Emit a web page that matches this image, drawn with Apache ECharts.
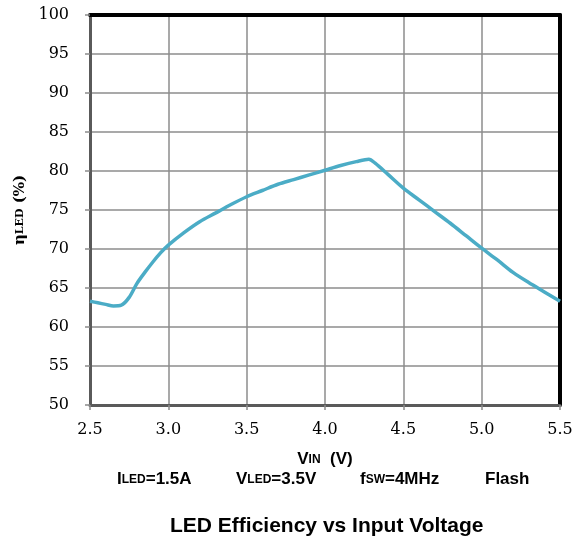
<!DOCTYPE html>
<html>
<head>
<meta charset="utf-8">
<script src="https://cdn.jsdelivr.net/npm/echarts@6/dist/echarts.min.js"></script>
<style>
  html, body { margin: 0; padding: 0; background: #fff; }
  #chart { width: 579px; height: 539px; }
</style>
</head>
<body>
<div id="chart"></div>
<script>
// input voltage (V) and LED efficiency (%)
var vin = [2.5, 2.55, 2.6, 2.65, 2.7, 2.75, 2.8, 2.85, 2.9, 2.95, 3.0, 3.1, 3.2, 3.3, 3.4, 3.5, 3.6, 3.7, 3.8, 3.9, 4.0, 4.1, 4.2, 4.28, 4.32, 4.4, 4.5, 4.6, 4.7, 4.8, 4.9, 5.0, 5.1, 5.2, 5.3, 5.4, 5.5];
var eff = [63.3, 63.1, 62.9, 62.7, 62.8, 63.8, 65.6, 67.0, 68.3, 69.5, 70.5, 72.1, 73.5, 74.6, 75.7, 76.7, 77.5, 78.3, 78.9, 79.5, 80.1, 80.7, 81.2, 81.5, 81.0, 79.6, 77.8, 76.3, 74.8, 73.3, 71.7, 70.1, 68.6, 67.0, 65.7, 64.5, 63.3];

var chart = echarts.init(document.getElementById("chart"));

var sub = { fontSize: 12, fontWeight: "bold", fontFamily: "Liberation Sans", color: "#000" };
var big = { fontSize: 17, fontWeight: "bold", fontFamily: "Liberation Sans", color: "#000" };
var serifB = { fontSize: 15, fontWeight: "bold", fontFamily: "DejaVu Serif", color: "#000" };
var serifS = { fontSize: 11, fontWeight: "bold", fontFamily: "DejaVu Serif", color: "#000" };

// top / right frame is black, left / bottom axes are dark gray
var frameAxis = {
  axisLine: { show: true, lineStyle: { color: "#000", width: 4 } },
  axisTick: { show: false },
  axisLabel: { show: false },
  splitLine: { show: false },
};

chart.setOption({
  animation: false,
  title: {
    text: "LED Efficiency vs Input Voltage",
    left: 165,
    top: 511,
    textStyle: { fontSize: 21, fontWeight: "bold", fontFamily: "Liberation Sans", color: "#000" },
  },
  grid: {
    left: 90,
    right: 19,
    top: 15,
    bottom: 134,
  },
  xAxis: [
    {
      type: "value",
      min: 2.5,
      max: 5.5,
      interval: 0.5,
      name: "{b|V}{s|IN}{b|  (V)}",
      nameLocation: "middle",
      nameGap: 46,
      nameTextStyle: { rich: { b: big, s: sub } },
      axisLine: { lineStyle: { color: "#5a5a5a", width: 3 } },
      axisTick: { show: true, length: 5, lineStyle: { color: "#8c8c8c", width: 1.5 } },
      axisLabel: {
        color: "#000",
        fontSize: 16,
        fontFamily: "DejaVu Serif",
        margin: 17,
        formatter: function (v) { return v.toFixed(1); },
      },
      splitLine: { lineStyle: { color: "#8c8c8c", width: 1.5 } },
    },
    Object.assign({ type: "value", position: "top", min: 2.5, max: 5.5 }, frameAxis),
  ],
  yAxis: [
    {
      type: "value",
      min: 50,
      max: 100,
      interval: 5,
      name: "{g|η}{s|LED}{g| (%)}",
      nameLocation: "middle",
      nameGap: 56,
      nameTextStyle: { rich: { g: serifB, s: serifS } },
      axisLine: { show: true, lineStyle: { color: "#5a5a5a", width: 3 } },
      axisTick: { show: true, length: 5, lineStyle: { color: "#8c8c8c", width: 1.5 } },
      axisLabel: { color: "#000", fontSize: 16, fontFamily: "DejaVu Serif", margin: 21 },
      splitLine: { lineStyle: { color: "#8c8c8c", width: 1.5 } },
    },
    Object.assign({ type: "value", position: "right", min: 50, max: 100 }, frameAxis),
  ],
  graphic: [
    {
      type: "text",
      left: 117,
      top: 471,
      style: { text: "{b|I}{s|LED}{b|=1.5A}", rich: { b: big, s: sub } },
    },
    {
      type: "text",
      left: 236,
      top: 471,
      style: { text: "{b|V}{s|LED}{b|=3.5V}", rich: { b: big, s: sub } },
    },
    {
      type: "text",
      left: 360,
      top: 471,
      style: { text: "{b|f}{s|SW}{b|=4MHz}", rich: { b: big, s: sub } },
    },
    {
      type: "text",
      left: 485,
      top: 471,
      style: { text: "{b|Flash}", rich: { b: big } },
    },
  ],
  series: [
    {
      type: "line",
      data: vin.map(function (v, i) { return [v, eff[i]]; }),
      smooth: 0.3,
      showSymbol: false,
      lineStyle: { color: "#4bacc6", width: 3.5 },
    },
  ],
});
</script>
</body>
</html>
